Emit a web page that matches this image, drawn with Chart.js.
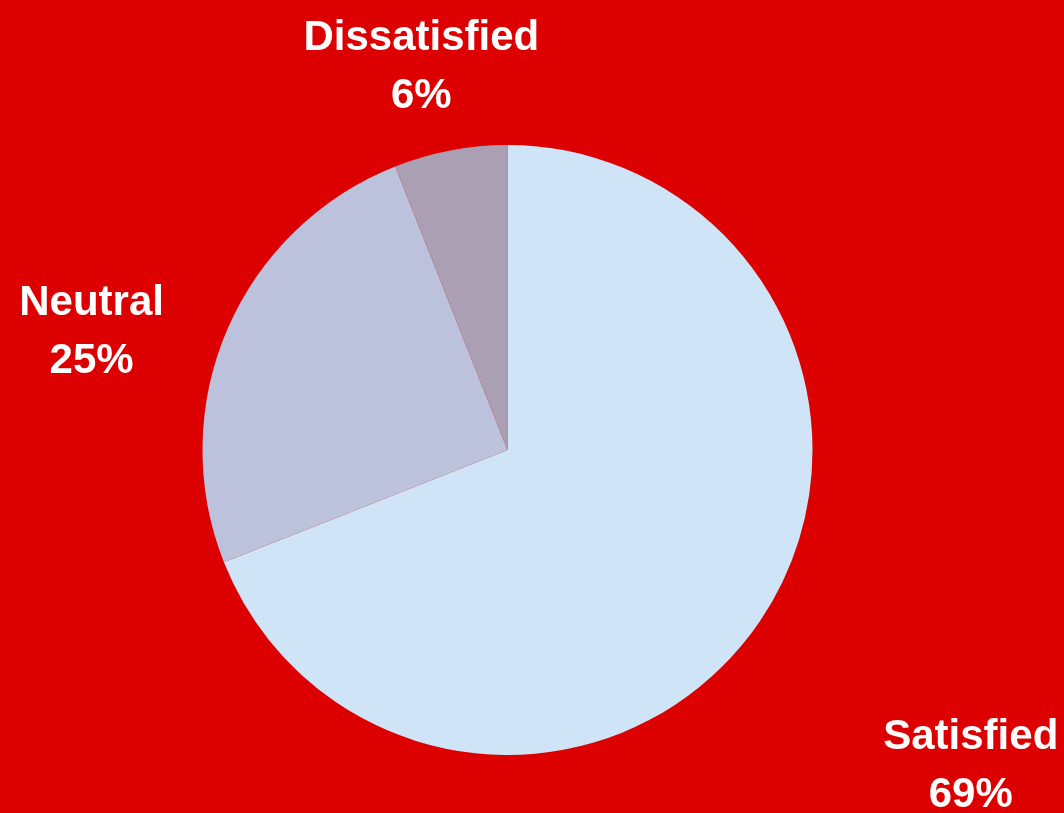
<!DOCTYPE html>
<html>
<head>
<meta charset="utf-8">
<script src="https://cdn.jsdelivr.net/npm/chart.js@4.4.0/dist/chart.umd.min.js"></script>
<style>
    html, body { margin: 0; padding: 0; background: #dd0000; }
    #wrap { width: 1064px; height: 813px; }
</style>
</head>
<body>
<div id="wrap"><canvas id="satisfactionChart" width="1064" height="813"></canvas></div>
<script>
const categories = ['Satisfied', 'Neutral', 'Dissatisfied'];
const shares = [69, 25, 6];
const sliceColors = ['#cfe4f7', '#bcc2dc', '#aa9fb3'];

// where each label sits, measured from the outer middle of its slice
const labelNudge = [[211, 128], [-136, -14], [-29, -100]];

const outsideLabels = {
    id: 'outsideLabels',
    afterDraw(chart) {
        const ctx = chart.ctx;
        const arcs = chart.getDatasetMeta(0).data;
        const total = shares.reduce((a, b) => a + b, 0);
        ctx.save();
        ctx.fillStyle = '#ffffff';
        ctx.font = 'bold 42px "Liberation Sans", Arial, sans-serif';
        ctx.textAlign = 'center';
        ctx.textBaseline = 'alphabetic';
        arcs.forEach((arc, i) => {
            const mid = (arc.startAngle + arc.endAngle) / 2;
            const x = arc.x + Math.cos(mid) * arc.outerRadius + labelNudge[i][0];
            const y = arc.y + Math.sin(mid) * arc.outerRadius + labelNudge[i][1];
            ctx.fillText(categories[i], x, y);
            ctx.fillText(Math.round(shares[i] / total * 100) + '%', x, y + 58);
        });
        ctx.restore();
    }
};

const bgFill = {
    id: 'bgFill',
    beforeDraw(chart) {
        const ctx = chart.ctx;
        ctx.save();
        ctx.fillStyle = '#dd0000';
        ctx.fillRect(0, 0, chart.width, chart.height);
        ctx.restore();
    }
};

new Chart(document.getElementById('satisfactionChart').getContext('2d'), {
    type: 'pie',
    data: {
        labels: categories,
        datasets: [{
            data: shares,
            backgroundColor: sliceColors,
            borderWidth: 0
        }]
    },
    options: {
        responsive: false,
        animation: false,
        layout: { padding: { left: 202.5, right: 251.5, top: 145, bottom: 58 } },
        plugins: {
            legend: { display: false },
            tooltip: { enabled: false }
        }
    },
    plugins: [bgFill, outsideLabels]
});
</script>
</body>
</html>
